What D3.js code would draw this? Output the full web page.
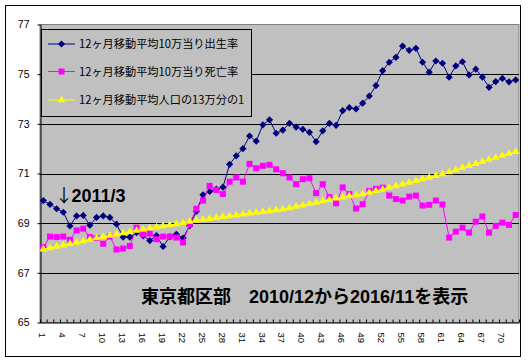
<!DOCTYPE html>
<html lang="ja">
<head>
<meta charset="UTF-8">
<title>東京都区部 出生率・死亡率</title>
<script src="https://d3js.org/d3.v7.min.js"></script>
<style>
  body { margin: 0; background: #fff; }
  svg { display: block; font-family: "Liberation Sans", Arial, "Noto Sans CJK JP", sans-serif; }
</style>
</head>
<body>
<svg width="528" height="363"></svg>
<script>
// months counted from 2010/12 (1) to 2016/11 (72)
const months = d3.range(1, 73);

const seriesNames = [
  "12ヶ月移動平均10万当り出生率",
  "12ヶ月移動平均10万当り死亡率",
  "12ヶ月移動平均人口の13万分の1"
];

const birthRate = [
  69.91, 69.76, 69.58, 69.44, 68.89, 69.29, 69.31, 68.92, 69.23, 69.29, 69.23, 68.96,
  68.44, 68.44, 68.62, 68.49, 68.30, 68.50, 68.06, 68.45, 68.55, 68.40, 68.90, 69.47,
  70.14, 70.28, 70.37, 70.45, 71.37, 71.71, 72.00, 72.51, 72.30, 72.96, 73.16, 72.62,
  72.75, 73.02, 72.87, 72.78, 72.66, 72.28, 72.72, 73.02, 72.94, 73.53, 73.65, 73.60,
  73.83, 74.12, 74.54, 75.14, 75.48, 75.68, 76.13, 75.96, 76.04, 75.48, 75.08, 75.53,
  75.44, 74.88, 75.33, 75.50, 74.97, 75.20, 74.88, 74.47, 74.70, 74.83, 74.69, 74.77
];

const deathRate = [
  68.03, 68.46, 68.44, 68.46, 68.33, 68.71, 68.78, 68.44, 68.40, 68.17, 68.46, 67.94,
  67.98, 68.08, 68.82, 68.55, 68.58, 68.35, 68.46, 68.46, 68.42, 68.22, 68.96, 69.58,
  69.91, 70.50, 70.34, 70.17, 70.67, 70.84, 70.67, 71.39, 71.21, 71.31, 71.35, 71.17,
  71.01, 70.84, 70.57, 70.77, 70.81, 70.21, 70.57, 70.05, 69.80, 70.44, 70.17, 69.59,
  69.76, 70.30, 70.38, 70.43, 70.11, 69.97, 69.91, 70.07, 70.11, 69.71, 69.74, 69.91,
  69.75, 68.42, 68.66, 68.82, 68.62, 69.06, 69.27, 68.62, 68.89, 69.02, 68.93, 69.33
];

const population = [
  67.95, 68.00, 68.06, 68.11, 68.17, 68.22, 68.28, 68.34, 68.40, 68.45, 68.50, 68.55,
  68.60, 68.65, 68.70, 68.75, 68.80, 68.84, 68.89, 68.93, 68.97, 69.02, 69.07, 69.12,
  69.15, 69.18, 69.22, 69.26, 69.29, 69.32, 69.36, 69.40, 69.43, 69.46, 69.49, 69.53,
  69.56, 69.61, 69.67, 69.72, 69.78, 69.83, 69.89, 69.94, 70.00, 70.04, 70.09, 70.13,
  70.17, 70.23, 70.30, 70.36, 70.43, 70.50, 70.57, 70.64, 70.71, 70.78, 70.84, 70.91,
  70.98, 71.06, 71.14, 71.23, 71.31, 71.39, 71.47, 71.56, 71.64, 71.72, 71.80, 71.88
];

const yTicks = [65, 67, 69, 71, 73, 75, 77];
const xLabels = months.filter(m => (m - 1) % 3 === 0);

const svg = d3.select("svg");
const plotLeft = 40, plotRight = 519, plotTop = 24.5, plotBottom = 322.5;

// outer frame
svg.append("rect")
  .attr("x", 5.5).attr("y", 5.5)
  .attr("width", 515).attr("height", 351)
  .attr("fill", "#fff").attr("stroke", "#000");

// plot area
svg.append("rect")
  .attr("x", plotLeft).attr("y", plotTop)
  .attr("width", plotRight - plotLeft).attr("height", plotBottom - plotTop)
  .attr("fill", "#c0c0c0").attr("stroke", "#808080");

const x = d3.scaleBand().domain(months).range([plotLeft, plotRight]);
const y = d3.scaleLinear().domain([65, 77]).range([plotBottom, plotTop]);
const cx = d => x(d) + x.bandwidth() / 2;

// gridlines
svg.append("g")
  .selectAll("line")
  .data(yTicks.filter(t => t > 65 && t < 77))
  .join("line")
  .attr("x1", plotLeft).attr("x2", plotRight)
  .attr("y1", d => Math.round(y(d)) + 0.5).attr("y2", d => Math.round(y(d)) + 0.5)
  .attr("stroke", "#000");

// y axis
const yAxis = svg.append("g")
  .attr("transform", `translate(${plotLeft + 0.5},0)`)
  .call(d3.axisLeft(y).tickValues(yTicks).tickSize(3).tickSizeOuter(0).tickPadding(8));
yAxis.selectAll("text").attr("font-size", "10.5px").attr("fill", "#000")
  .attr("font-family", "Liberation Sans, Arial, sans-serif");
yAxis.selectAll("line, path").attr("stroke", "#000");

// x axis: small ticks on every month boundary pointing inwards
const xb = d3.scaleLinear().domain([0, months.length]).range([plotLeft, plotRight]);
const xAxis = svg.append("g")
  .attr("transform", `translate(0,${plotBottom})`)
  .call(d3.axisTop(xb).tickValues(d3.range(0, months.length + 1)).tickSize(3)
    .tickSizeOuter(0).tickFormat(""));
xAxis.selectAll("line, path").attr("stroke", "#000");

// x labels, turned to read downwards
const xl = svg.append("g")
  .attr("transform", `translate(0,${plotBottom})`)
  .call(d3.axisBottom(x).tickValues(xLabels).tickSize(0).tickPadding(0));
xl.select(".domain").remove();
xl.selectAll("text")
  .attr("font-size", "9.5px").attr("fill", "#000")
  .attr("font-family", "Liberation Sans, Arial, sans-serif")
  .attr("text-anchor", "start")
  .attr("transform", "translate(-1,10) rotate(90)")
  .attr("x", 0).attr("y", 0).attr("dy", "0.35em");

const diamond = d3.symbol(d3.symbolSquare, 26)();
const square = d3.symbol(d3.symbolSquare, 36)();
const triangle = d3.symbol(d3.symbolTriangle, 26)();

const series = [
  { name: seriesNames[0], values: birthRate, color: "#000080", shape: diamond, rot: 45 },
  { name: seriesNames[1], values: deathRate, color: "#ff00ff", shape: square, rot: 0 },
  { name: seriesNames[2], values: population, color: "#ffff00", shape: triangle, rot: 0 }
];

const line = d3.line().x((d, i) => cx(months[i])).y(d => y(d));

series.forEach(s => {
  const g = svg.append("g");
  g.append("path")
    .attr("d", line(s.values))
    .attr("fill", "none").attr("stroke", s.color).attr("stroke-width", 1);
  g.selectAll("path.mark")
    .data(s.values)
    .join("path")
    .attr("class", "mark")
    .attr("d", s.shape)
    .attr("fill", s.color)
    .attr("transform", (d, i) => `translate(${cx(months[i])},${y(d)}) rotate(${s.rot})`);
});

// legend
const lg = svg.append("g");
lg.append("rect")
  .attr("x", 41.5).attr("y", 29.5).attr("width", 210).attr("height", 87)
  .attr("fill", "#c0c0c0").attr("stroke", "#000");
const legendY = [44, 71.5, 100];
series.forEach((s, i) => {
  lg.append("line")
    .attr("x1", 48).attr("x2", 75)
    .attr("y1", legendY[i]).attr("y2", legendY[i])
    .attr("stroke", s.color);
  lg.append("path")
    .attr("d", s.shape).attr("fill", s.color)
    .attr("transform", `translate(61.5,${legendY[i]}) rotate(${s.rot})`);
  lg.append("text")
    .attr("x", 79).attr("y", legendY[i]).attr("dy", "0.36em")
    .attr("font-size", "11.2px")
    .attr("font-family", "Noto Sans CJK JP, sans-serif")
    .text(s.name);
});

// annotations
const note = svg.append("text")
  .attr("y", 201.5)
  .attr("font-size", "18px").attr("font-weight", "bold");
note.append("tspan")
  .attr("x", 55)
  .attr("font-family", "Noto Sans CJK JP, sans-serif")
  .attr("font-weight", "normal")
  .text("↓");
note.append("tspan")
  .attr("x", 71.5)
  .text("2011/3");

svg.append("text")
  .attr("x", 141).attr("y", 302.5)
  .attr("font-size", "18px").attr("font-weight", "bold")
  .text("東京都区部　2010/12から2016/11を表示");
</script>
</body>
</html>
